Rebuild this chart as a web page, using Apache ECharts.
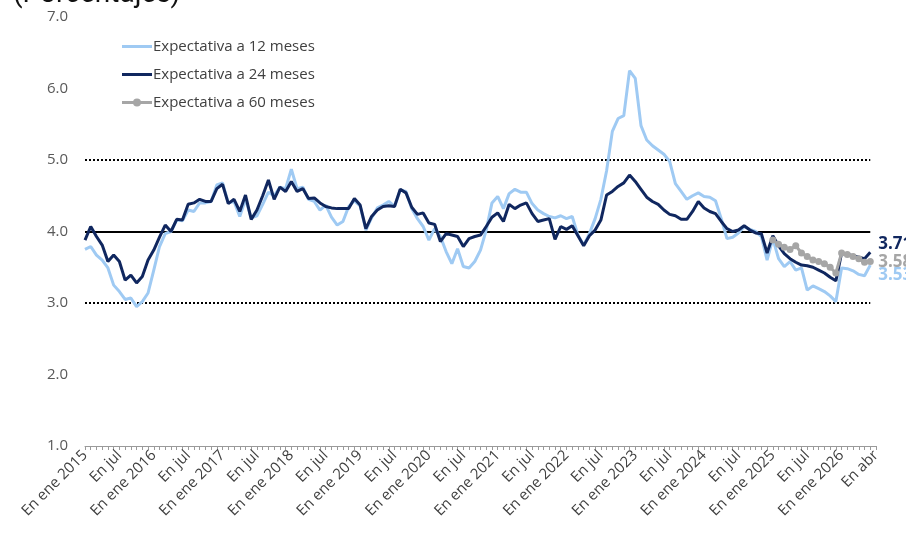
<!DOCTYPE html>
<html>
<head>
<meta charset="utf-8">
<script src="https://cdn.jsdelivr.net/npm/echarts@6/dist/echarts.min.js"></script>
<style>
  html, body { margin: 0; padding: 0; background: #fff; }
  #chart { width: 906px; height: 533px; }
</style>
</head>
<body>
<div id="chart"></div>
<script>
// meses ene 2015 - jul 2026 (el ultimo solo lleva la etiqueta "En abr")
const monthNames = ['ene', 'feb', 'mar', 'abr', 'may', 'jun', 'jul', 'ago', 'sep', 'oct', 'nov', 'dic'];
const categories = [];
for (let y = 2015; y <= 2026; y++) {
  for (let m = 0; m < 12; m++) {
    if (y === 2026 && m > 6) break;
    categories.push(monthNames[m] + ' ' + y);
  }
}
const lastTickLabel = 'En abr';

// Expectativa a 12 meses (ene 2015 - jun 2026)
const exp12 = [
  3.75, 3.79, 3.67, 3.60, 3.49, 3.25, 3.16, 3.05, 3.07, 2.95, 3.02, 3.14,
  3.46, 3.79, 3.97, 4.00, 4.16, 4.15, 4.30, 4.28, 4.40, 4.40, 4.42, 4.65,
  4.68, 4.40, 4.42, 4.21, 4.45, 4.19, 4.22, 4.38, 4.55, 4.50, 4.62, 4.60,
  4.87, 4.60, 4.62, 4.45, 4.42, 4.30, 4.37, 4.20, 4.09, 4.14, 4.35, 4.43,
  4.36, 4.02, 4.19, 4.33, 4.37, 4.42, 4.35, 4.58, 4.56, 4.32, 4.18, 4.07,
  3.88, 4.04, 3.93, 3.72, 3.55, 3.76, 3.51, 3.49, 3.58, 3.74, 4.02, 4.40,
  4.49, 4.32, 4.53, 4.59, 4.55, 4.55, 4.39, 4.30, 4.25, 4.21, 4.19, 4.22,
  4.18, 4.21, 3.95, 3.81, 3.97, 4.18, 4.45, 4.85, 5.40, 5.58, 5.62, 6.25,
  6.14, 5.48, 5.28, 5.20, 5.14, 5.08, 4.98, 4.67, 4.56, 4.45, 4.50, 4.54,
  4.49, 4.48, 4.43, 4.18, 3.90, 3.92, 3.98, 4.07, 4.03, 4.00, 3.93, 3.60,
  3.90, 3.62, 3.51, 3.58, 3.46, 3.49, 3.18, 3.24, 3.20, 3.16, 3.10, 3.02,
  3.49, 3.48, 3.45, 3.40, 3.38, 3.53
];

// Expectativa a 24 meses
const exp24 = [
  3.88, 4.07, 3.93, 3.81, 3.58, 3.67, 3.58, 3.32, 3.39, 3.28, 3.37, 3.60,
  3.74, 3.92, 4.09, 4.00, 4.17, 4.16, 4.38, 4.40, 4.45, 4.42, 4.42, 4.60,
  4.66, 4.39, 4.45, 4.28, 4.51, 4.17, 4.30, 4.50, 4.72, 4.45, 4.62, 4.56,
  4.70, 4.56, 4.60, 4.46, 4.47, 4.40, 4.35, 4.33, 4.32, 4.32, 4.32, 4.46,
  4.37, 4.04, 4.21, 4.30, 4.35, 4.36, 4.35, 4.59, 4.54, 4.34, 4.24, 4.26,
  4.12, 4.10, 3.86, 3.97, 3.95, 3.93, 3.79, 3.90, 3.93, 3.95, 4.07, 4.20,
  4.26, 4.14, 4.38, 4.32, 4.37, 4.40, 4.25, 4.14, 4.16, 4.18, 3.89, 4.07,
  4.03, 4.08, 3.94, 3.80, 3.94, 4.02, 4.16, 4.51, 4.56, 4.63, 4.68, 4.79,
  4.70, 4.59, 4.48, 4.42, 4.38, 4.30, 4.24, 4.22, 4.17, 4.17, 4.28, 4.42,
  4.33, 4.28, 4.25, 4.14, 4.04, 4.00, 4.02, 4.08, 4.02, 3.98, 3.97, 3.70,
  3.94, 3.80, 3.69, 3.62, 3.57, 3.53, 3.52, 3.50, 3.46, 3.42, 3.36, 3.31,
  3.70, 3.68, 3.66, 3.64, 3.62, 3.71
];

// Expectativa a 60 meses (desde ene 2025)
const exp60Start = 120;
const exp60 = [
  3.88, 3.82, 3.78, 3.75, 3.80, 3.70, 3.65, 3.60, 3.58, 3.55, 3.50, 3.42,
  3.70, 3.68, 3.65, 3.62, 3.57, 3.58
];

// meta de inflacion e intervalo
const target = 4.0;
const band = [3.0, 5.0];

const exp60Full = [];
for (let i = 0; i < exp60Start; i++) exp60Full.push(null);
exp60.forEach(v => exp60Full.push(v));

const lastCat = categories[exp24.length - 1];
const refLine = (v, type) => [
  { coord: [categories[0], v], lineStyle: { type: type, color: '#000', width: 2 } },
  { coord: [lastCat, v] }
];

const colors = { c12: '#9fcaf3', c24: '#10275f', c60: '#a6a6a6' };
const lineIcon = 'path://M0,0 L30,0 L30,3 L0,3 Z';
const dotIcon = 'path://M0,3.5 L30,3.5 L30,6.5 L0,6.5 Z M11,5 A4,4 0 1,1 19,5 A4,4 0 1,1 11,5 Z';

const endLabel = (color, dy) => ({
  show: true,
  distance: 8,
  offset: [0, dy],
  formatter: (p) => p.value.toFixed(2),
  fontFamily: 'Open Sans',
  fontSize: 17,
  fontWeight: 'bold',
  color: color
});

var myChart = echarts.init(document.getElementById('chart'));
myChart.setOption({
  animation: false,
  title: {
    text: '(Porcentajes)',
    left: 8,
    top: -24,
    textStyle: { fontFamily: 'Roboto', fontSize: 28, fontWeight: 'normal', color: '#111' }
  },
  legend: {
    orient: 'vertical',
    left: 117,
    top: 34,
    itemWidth: 30,
    itemHeight: 14,
    itemGap: 13,
    textStyle: { fontFamily: 'Open Sans', fontSize: 15, color: '#404040', padding: [0, 0, 0, -4] },
    data: [
      { name: 'Expectativa a 12 meses', icon: lineIcon },
      { name: 'Expectativa a 24 meses', icon: lineIcon },
      { name: 'Expectativa a 60 meses', icon: dotIcon }
    ]
  },
  grid: { left: 85, right: 30, top: 17, bottom: 87 },
  xAxis: {
    type: 'category',
    data: categories,
    boundaryGap: false,
    axisLine: { lineStyle: { color: '#9a9a9a', width: 1 } },
    axisTick: { show: true, interval: 0, length: 4, lineStyle: { color: '#9a9a9a' } },
    axisLabel: {
      rotate: 45,
      interval: (idx) => idx % 6 === 0,
      margin: 7,
      fontFamily: 'Open Sans',
      fontSize: 15,
      color: '#404040',
      formatter: (val, idx) => {
        if (idx === categories.length - 1) return lastTickLabel;
        const [m, y] = val.split(' ');
        return m === 'ene' ? 'En ene ' + y : 'En ' + m;
      }
    }
  },
  yAxis: {
    type: 'value',
    min: 1,
    max: 7,
    interval: 1,
    axisLine: { show: false },
    axisTick: { show: false },
    splitLine: { show: false },
    axisLabel: {
      margin: 17,
      fontFamily: 'Open Sans',
      fontSize: 15,
      color: '#595959',
      formatter: (v) => v.toFixed(1)
    }
  },
  series: [
    {
      name: 'Expectativa a 12 meses',
      type: 'line',
      data: exp12,
      showSymbol: false,
      symbol: 'none',
      lineStyle: { color: colors.c12, width: 3 },
      itemStyle: { color: colors.c12 },
      z: 2,
      endLabel: endLabel(colors.c12, 10)
    },
    {
      name: 'Expectativa a 24 meses',
      type: 'line',
      data: exp24,
      showSymbol: false,
      symbol: 'none',
      lineStyle: { color: colors.c24, width: 3 },
      itemStyle: { color: colors.c24 },
      z: 3,
      endLabel: endLabel(colors.c24, -8),
      markLine: {
        silent: true,
        symbol: 'none',
        label: { show: false },
        z: 1,
        data: [
          refLine(target, 'solid'),
          refLine(band[0], 'dotted'),
          refLine(band[1], 'dotted')
        ]
      }
    },
    {
      name: 'Expectativa a 60 meses',
      type: 'line',
      data: exp60Full,
      symbol: 'circle',
      symbolSize: 7,
      showSymbol: true,
      showAllSymbol: true,
      lineStyle: { color: colors.c60, width: 3 },
      itemStyle: { color: colors.c60 },
      z: 4,
      endLabel: endLabel(colors.c60, 1)
    }
  ]
});
</script>
</body>
</html>
